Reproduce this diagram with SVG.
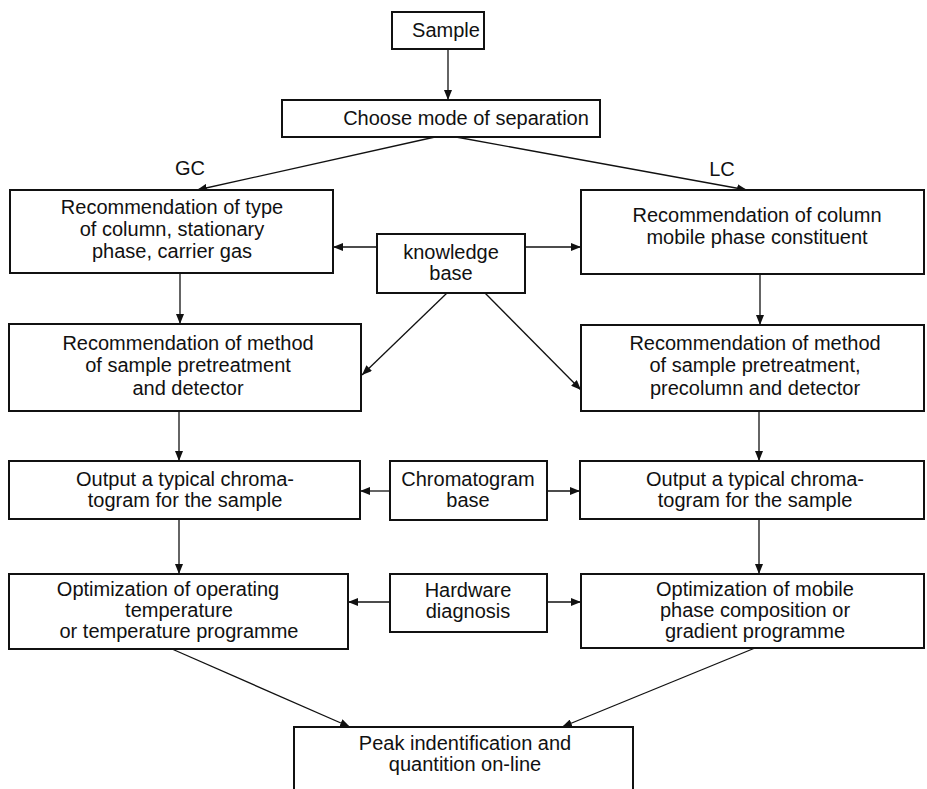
<svg xmlns="http://www.w3.org/2000/svg" width="927" height="789" viewBox="0 0 927 789">
<style>
.box{fill:#fff;stroke:#111;stroke-width:2}
.t{font-family:"Liberation Sans",Arial,sans-serif;font-size:20px;fill:#111;text-anchor:middle}
.c{stroke:#111;stroke-width:1.3;fill:none;marker-end:url(#ah)}
</style>
<defs>
<marker id="ah" markerUnits="userSpaceOnUse" markerWidth="10" markerHeight="8" refX="10" refY="4" orient="auto">
<path d="M0,0 L10,4 L0,8 Z" fill="#111"/>
</marker>
</defs>
<rect width="927" height="789" fill="#fff"/>
<g id="connectors">
<line class="c" x1="448" y1="49" x2="448" y2="100"/>
<line class="c" x1="435" y1="137" x2="197" y2="190"/>
<line class="c" x1="456" y1="137" x2="747" y2="190"/>
<line class="c" x1="377" y1="247" x2="333" y2="247"/>
<line class="c" x1="525" y1="247" x2="581" y2="247"/>
<line class="c" x1="180" y1="273" x2="180" y2="324"/>
<line class="c" x1="760" y1="274" x2="760" y2="325"/>
<line class="c" x1="447" y1="293" x2="362" y2="375"/>
<line class="c" x1="485" y1="293" x2="581" y2="390"/>
<line class="c" x1="179" y1="411" x2="179" y2="461"/>
<line class="c" x1="759" y1="411" x2="759" y2="461"/>
<line class="c" x1="390" y1="491" x2="360" y2="491"/>
<line class="c" x1="547" y1="491" x2="580" y2="491"/>
<line class="c" x1="179" y1="519" x2="179" y2="574"/>
<line class="c" x1="759" y1="519" x2="759" y2="574"/>
<line class="c" x1="390" y1="602" x2="348" y2="602"/>
<line class="c" x1="547" y1="602" x2="581" y2="602"/>
<line class="c" x1="172" y1="649" x2="350" y2="727"/>
<line class="c" x1="755" y1="648" x2="562" y2="727"/>
</g>
<g id="label-gc"><text class="t" x="190" y="175">GC</text></g>
<g id="label-lc"><text class="t" x="722" y="176">LC</text></g>
<g id="sample">
<rect class="box" x="392" y="12" width="92" height="37"/>
<text class="t" x="446" y="37">Sample</text>
</g>
<g id="choose">
<rect class="box" x="282" y="100" width="318" height="37"/>
<text class="t" x="466" y="125">Choose mode of separation</text>
</g>
<g id="gc-rec">
<rect class="box" x="10" y="190" width="323" height="83"/>
<text class="t" x="172" y="214">Recommendation of type</text>
<text class="t" x="172" y="236">of column, stationary</text>
<text class="t" x="172" y="258">phase, carrier gas</text>
</g>
<g id="lc-rec">
<rect class="box" x="581" y="190" width="343" height="84"/>
<text class="t" x="757" y="222">Recommendation of column</text>
<text class="t" x="757" y="244">mobile phase constituent</text>
</g>
<g id="knowledge-base">
<rect class="box" x="377" y="234" width="148" height="59"/>
<text class="t" x="451" y="259">knowledge</text>
<text class="t" x="451" y="280">base</text>
</g>
<g id="gc-method">
<rect class="box" x="9" y="324" width="352" height="87"/>
<text class="t" x="188" y="350">Recommendation of method</text>
<text class="t" x="188" y="372">of sample pretreatment</text>
<text class="t" x="188" y="395">and detector</text>
</g>
<g id="lc-method">
<rect class="box" x="581" y="325" width="343" height="86"/>
<text class="t" x="755" y="350">Recommendation of method</text>
<text class="t" x="755" y="372">of sample pretreatment,</text>
<text class="t" x="755" y="395">precolumn and detector</text>
</g>
<g id="gc-output">
<rect class="box" x="9" y="461" width="351" height="58"/>
<text class="t" x="185" y="486">Output a typical chroma-</text>
<text class="t" x="185" y="507">togram for the sample</text>
</g>
<g id="chromatogram-base">
<rect class="box" x="390" y="461" width="157" height="59"/>
<text class="t" x="468" y="486">Chromatogram</text>
<text class="t" x="468" y="507">base</text>
</g>
<g id="lc-output">
<rect class="box" x="580" y="461" width="344" height="58"/>
<text class="t" x="755" y="486">Output a typical chroma-</text>
<text class="t" x="755" y="507">togram for the sample</text>
</g>
<g id="gc-opt">
<rect class="box" x="9" y="574" width="339" height="75"/>
<text class="t" x="168" y="596">Optimization of operating</text>
<text class="t" x="179" y="617">temperature</text>
<text class="t" x="179" y="638">or temperature programme</text>
</g>
<g id="hardware-diagnosis">
<rect class="box" x="390" y="574" width="157" height="58"/>
<text class="t" x="468" y="597">Hardware</text>
<text class="t" x="468" y="618">diagnosis</text>
</g>
<g id="lc-opt">
<rect class="box" x="581" y="574" width="343" height="74"/>
<text class="t" x="755" y="596">Optimization of mobile</text>
<text class="t" x="755" y="617">phase composition or</text>
<text class="t" x="755" y="638">gradient programme</text>
</g>
<g id="peak">
<rect class="box" x="294" y="727" width="339" height="80"/>
<text class="t" x="465" y="750">Peak indentification and</text>
<text class="t" x="465" y="771">quantition on-line</text>
</g>
</svg>
